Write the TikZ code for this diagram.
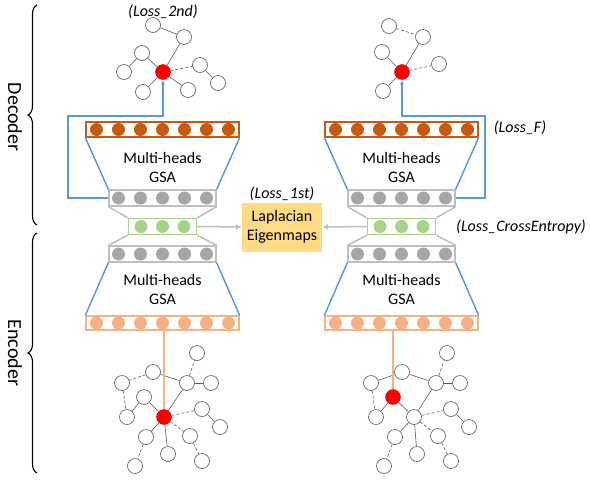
\documentclass[tikz,border=0pt]{standalone}
\usepackage{fontspec}
\setmainfont{Carlito}
\usetikzlibrary{decorations.pathreplacing,arrows.meta}

\definecolor{dorange}{HTML}{C55A11}
\definecolor{lorange}{HTML}{F4B183}
\definecolor{dotgray}{HTML}{A6A6A6}
\definecolor{bargray}{HTML}{BFBFBF}
\definecolor{lgreen}{HTML}{A9D18E}
\definecolor{lblue}{HTML}{5B9BD5}
\definecolor{lyellow}{HTML}{FFDA85}
\definecolor{edgegray}{HTML}{595959}

\tikzset{
  bar/.style={draw=#1, line width=1.3pt, minimum height=15pt, inner sep=0pt, fill=white},
  dot/.style={circle, fill=#1, minimum size=13pt, inner sep=0pt},
  gnode/.style={circle, draw=edgegray, fill=white, minimum size=15pt, inner sep=0pt, line width=0.6pt},
  rnode/.style={circle, fill=red, draw=red!85!black, minimum size=15pt, inner sep=0pt},
  gedge/.style={edgegray, line width=0.6pt},
  dedge/.style={edgegray, line width=0.6pt, densely dashed},
  txt/.style={font=\fontsize{16}{19}\selectfont, align=center},
  loss/.style={font=\fontsize{16}{19}\selectfont\itshape},
  side/.style={font=\fontsize{20}{24}\selectfont, rotate=-90},
  blueline/.style={lblue, line width=1.5pt},
  grayline/.style={bargray, line width=1.5pt},
}

\begin{document}
\begin{tikzpicture}[x=1pt, y=-1pt]
  \useasboundingbox (0,0) rectangle (590,483);

  % the two stacks
  \foreach \cx/\s in {162.5/l, 401.5/r} {
    \node[bar=dorange, minimum width=153pt] (obar\s) at (\cx,129.5) {};
    \foreach \i in {-3,...,3}
      \node[dot=dorange] at (\cx+22*\i,129.5) {};
    \node[bar=bargray, minimum width=107pt, minimum height=16pt] (gup\s) at (\cx,198) {};
    \foreach \i in {-2,...,2}
      \node[dot=dotgray] at (\cx+22*\i,198) {};
    \node[bar=lgreen, minimum width=68pt, minimum height=16pt] (grn\s) at (\cx,226.5) {};
    \foreach \i in {-1,0,1}
      \node[dot=lgreen] at (\cx+21.5*\i,226.5) {};
    \node[bar=bargray, minimum width=107pt, minimum height=16pt] (gdn\s) at (\cx,254) {};
    \foreach \i in {-2,...,2}
      \node[dot=dotgray] at (\cx+22*\i,254) {};
    \node[bar=lorange, minimum width=153pt, minimum height=14pt] (lobar\s) at (\cx,323) {};
    \foreach \i in {-3,...,3}
      \node[dot=lorange] at (\cx+22*\i,323) {};

    \draw[blueline] (obar\s.south west) -- (gup\s.north west);
    \draw[blueline] (obar\s.south east) -- (gup\s.north east);
    \draw[grayline] (gup\s.south west) -- (grn\s.north west);
    \draw[grayline] (gup\s.south east) -- (grn\s.north east);
    \draw[grayline] (grn\s.south west) -- (gdn\s.north west);
    \draw[grayline] (grn\s.south east) -- (gdn\s.north east);
    \draw[blueline] (gdn\s.south west) -- (lobar\s.north west);
    \draw[blueline] (gdn\s.south east) -- (lobar\s.north east);

    \node[txt] (gsaup\s) at (\cx,167) {Multi-heads\\GSA};
    \node[txt] (gsadn\s) at (\cx,289) {Multi-heads\\GSA};
  }

  \node[txt, fill=lyellow, minimum width=80pt, minimum height=49pt, inner sep=0pt] (lap) at (282,227) {Laplacian\\Eigenmaps};
  \draw[grayline, -{Latex[length=6pt,width=6pt]}] (grnl.east) -- (lap.west);
  \draw[grayline, -{Latex[length=6pt,width=6pt]}] (grnr.west) -- (lap.east);

  % top left graph
  \node[gnode] (tla) at (153,25) {};
  \node[gnode] (tlb) at (184,37) {};
  \node[gnode] (tlc) at (142,53) {};
  \node[gnode] (tld) at (124,72) {};
  \node[gnode] (tle) at (200,65) {};
  \node[gnode] (tlf) at (218,83) {};
  \node[gnode] (tlg) at (143,92) {};
  \node[gnode] (tlh) at (188,90) {};
  \node[rnode] (tlr) at (163,72) {};
  \foreach \a/\b in {tla/tlb, tlb/tlr, tlc/tlr, tlc/tld, tle/tlf, tlr/tlg, tlr/tlh}
    \draw[gedge] (\a) -- (\b);
  \draw[dedge] (tlr) -- (tle);

  % top right graph
  \node[gnode] (tra) at (389,26) {};
  \node[gnode] (trb) at (423,37) {};
  \node[gnode] (trc) at (382,52) {};
  \node[gnode] (tre) at (439,64) {};
  \node[gnode] (trg) at (383,91) {};
  \node[rnode] (trr) at (402,72) {};
  \foreach \a/\b in {trb/trr, trc/trr, trr/trg}
    \draw[gedge] (\a) -- (\b);
  \foreach \a/\b in {tra/trb, trr/tre}
    \draw[dedge] (\a) -- (\b);

  % bottom left graph
  \node[gnode] (bla) at (197,353) {};
  \node[gnode] (blb) at (153,372) {};
  \node[gnode] (blc) at (122,383) {};
  \node[gnode] (bld) at (187,383) {};
  \node[gnode] (ble) at (211,383) {};
  \node[gnode] (blf) at (144,397) {};
  \node[gnode] (blg) at (127,417) {};
  \node[gnode] (blh) at (202,409) {};
  \node[gnode] (bli) at (220,427) {};
  \node[gnode] (blj) at (146,437) {};
  \node[gnode] (blk) at (190,436) {};
  \node[gnode] (bll) at (168,454) {};
  \node[gnode] (blm) at (135,466) {};
  \node[gnode] (bln) at (202,461) {};
  \node[rnode] (blr) at (164,417) {};
  \foreach \a/\b in {blb/bld, bld/ble, bld/blr, blf/blg, blf/blr, blh/bli, blr/blj, blr/bll}
    \draw[gedge] (\a) -- (\b);
  \foreach \a/\b in {blb/blc, blc/blg, bld/bla, blr/blh, blj/blm, blr/blk, blk/bln}
    \draw[dedge] (\a) -- (\b);

  % bottom right graph
  \node[gnode] (bra) at (447,353) {};
  \node[gnode] (brb) at (402,372) {};
  \node[gnode] (brc) at (371,383) {};
  \node[gnode] (brd) at (436,383) {};
  \node[gnode] (bre) at (460,383) {};
  \node[gnode] (brg) at (376,417) {};
  \node[gnode] (brs) at (414,417) {};
  \node[gnode] (brh) at (451,409) {};
  \node[gnode] (bri) at (469,427) {};
  \node[gnode] (brj) at (395,437) {};
  \node[gnode] (brk) at (438,436) {};
  \node[gnode] (brl) at (417,454) {};
  \node[gnode] (brm) at (384,466) {};
  \node[gnode] (brn) at (451,461) {};
  \node[rnode] (brr) at (393,397) {};
  \foreach \a/\b in {brb/brc, brb/brd, brd/bre, brd/brs, brr/brg, brr/brs, brh/bri, brs/brj, brs/brl}
    \draw[gedge] (\a) -- (\b);
  \foreach \a/\b in {brc/brg, brd/bra, brs/brh, brj/brm, brs/brk, brk/brn}
    \draw[dedge] (\a) -- (\b);

  % links between stacks and graphs
  \draw[blueline, -{Latex[length=5pt,width=4pt]}] (gupl.west) -| (68,116) -| (tlr.south);
  \draw[blueline, -{Latex[length=5pt,width=4pt]}] (gupr.east) -| (485,116) -| (trr.south);
  \draw[lorange, line width=1.5pt] (lobarl.south -| blr) -- (blr);
  \draw[lorange, line width=1.5pt] (lobarr.south -| brr) -- (brr);

  % losses
  \node[loss] (l2nd) at (163,12) {(Loss\_2nd)};
  \node[loss] (l1st) at (282,194) {(Loss\_1st)};
  \node[loss] (lf) at (520,128) {(Loss\_F)};
  \node[loss] (lce) at (521,227) {(Loss\_CrossEntropy)};

  % braces
  \coordinate (dectop) at (37,5);
  \coordinate (decbot) at (37,225);
  \coordinate (enctop) at (37,233);
  \coordinate (encbot) at (37,473);
  \draw[decorate, decoration={brace, amplitude=9pt}, line width=1.1pt] (decbot) -- (dectop);
  \draw[decorate, decoration={brace, amplitude=9pt}, line width=1.1pt] (encbot) -- (enctop);
  \node[side] (dec) at (15,117) {Decoder};
  \node[side] (enc) at (15,353) {Encoder};
\end{tikzpicture}
\end{document}
